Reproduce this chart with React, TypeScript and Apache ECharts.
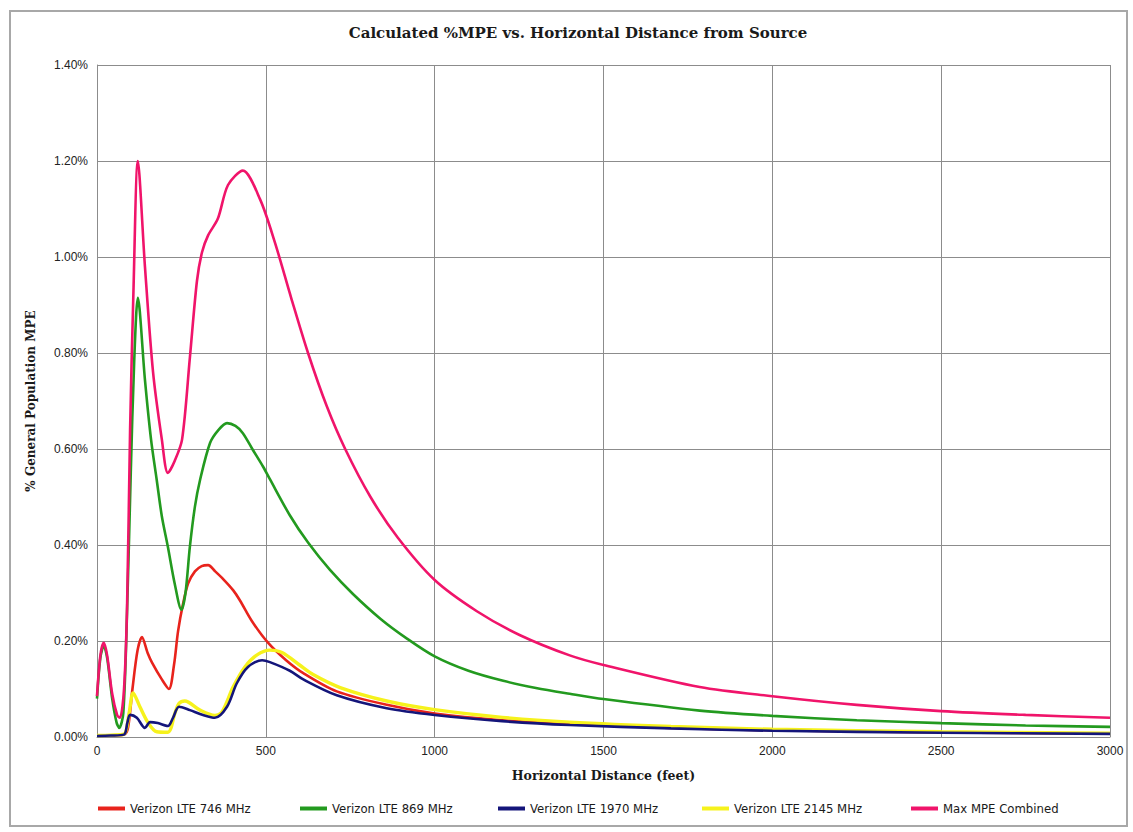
import React, { useEffect, useRef } from "react";
import * as echarts from "echarts";

const chartTitle = "Calculated %MPE vs. Horizontal Distance from Source";
const xAxisTitle = "Horizontal Distance (feet)";
const yAxisTitle = "% General Population MPE";
const xTickInterval = 500;
const xMax = 3000;
const yTickInterval = 0.2;
const yMax = 1.4;

const seriesNames = [
  "Verizon LTE 746 MHz",
  "Verizon LTE 869 MHz",
  "Verizon LTE 1970 MHz",
  "Verizon LTE 2145 MHz",
  "Max MPE Combined",
];

// [distance ft, % MPE]
const lte746: [number, number][] = [
  [0, 0.003], [40, 0.003], [80, 0.005], [92, 0.02], [105, 0.1], [120, 0.18], [133, 0.208],
  [150, 0.175], [163, 0.155], [192, 0.12], [213, 0.1], [228, 0.15], [240, 0.22], [255, 0.278],
  [270, 0.32], [290, 0.345], [310, 0.356], [329, 0.358], [350, 0.345], [375, 0.328],
  [403, 0.306], [423, 0.285], [460, 0.24], [507, 0.196], [560, 0.16], [611, 0.133],
  [710, 0.095], [858, 0.067], [1000, 0.049], [1200, 0.035], [1400, 0.027], [1700, 0.019],
  [2000, 0.014], [2500, 0.0095], [3000, 0.007],
];

const lte869: [number, number][] = [
  [0, 0.08], [10, 0.165], [20, 0.19], [30, 0.165], [45, 0.08], [58, 0.03], [66, 0.019],
  [78, 0.05], [89, 0.26], [100, 0.55], [110, 0.78], [121, 0.915], [142, 0.744], [160, 0.62],
  [177, 0.535], [192, 0.46], [210, 0.396], [230, 0.32], [250, 0.265], [262, 0.3], [275, 0.396],
  [290, 0.48], [305, 0.535], [335, 0.613], [360, 0.64], [385, 0.654], [410, 0.648],
  [432, 0.633], [460, 0.6], [492, 0.563], [512, 0.537], [571, 0.462], [625, 0.405],
  [690, 0.348], [758, 0.298], [840, 0.246], [918, 0.205], [1000, 0.168], [1100, 0.138],
  [1203, 0.117], [1300, 0.102], [1400, 0.09], [1500, 0.079], [1785, 0.055], [2000, 0.044],
  [2250, 0.035], [2500, 0.029], [2750, 0.024], [3000, 0.021],
];

const lte1970: [number, number][] = [
  [0, 0.002], [40, 0.003], [80, 0.005], [90, 0.03], [98, 0.046], [118, 0.04], [142, 0.019],
  [157, 0.031], [180, 0.029], [210, 0.023], [225, 0.04], [243, 0.063], [275, 0.056],
  [314, 0.046], [349, 0.04], [385, 0.063], [414, 0.112], [447, 0.146], [489, 0.16],
  [512, 0.156], [571, 0.138], [611, 0.12], [710, 0.087], [858, 0.06], [1000, 0.046],
  [1200, 0.033], [1400, 0.025], [1700, 0.018], [2000, 0.013], [2500, 0.009], [3000, 0.0065],
];

const lte2145: [number, number][] = [
  [0, 0.003], [40, 0.004], [80, 0.006], [95, 0.05], [107, 0.092], [127, 0.063], [151, 0.03],
  [177, 0.011], [210, 0.01], [231, 0.05], [243, 0.07], [260, 0.075], [305, 0.056],
  [349, 0.045], [370, 0.052], [403, 0.104], [438, 0.146], [474, 0.171], [512, 0.181],
  [548, 0.176], [600, 0.15], [640, 0.13], [720, 0.103], [858, 0.075], [1000, 0.057],
  [1200, 0.041], [1400, 0.031], [1700, 0.022], [2000, 0.016], [2500, 0.011], [3000, 0.008],
];

const maxCombined: [number, number][] = [
  [0, 0.085], [10, 0.17], [20, 0.196], [30, 0.17], [45, 0.09], [60, 0.045], [68, 0.04],
  [80, 0.1], [89, 0.27], [98, 0.64], [108, 0.93], [121, 1.2], [142, 0.98], [166, 0.76],
  [192, 0.62], [210, 0.55], [230, 0.575], [252, 0.62], [275, 0.79], [296, 0.95],
  [311, 1.01], [329, 1.045], [358, 1.08], [388, 1.15], [432, 1.18], [483, 1.12],
  [527, 1.03], [575, 0.915], [625, 0.8], [680, 0.69], [735, 0.6], [810, 0.5],
  [891, 0.415], [1000, 0.327], [1125, 0.262], [1253, 0.212], [1400, 0.17], [1500, 0.15],
  [1785, 0.104], [2000, 0.085], [2250, 0.067], [2500, 0.054], [2750, 0.046], [3000, 0.04],
];

const seriesData = [lte746, lte869, lte1970, lte2145, maxCombined];
const seriesColors = ["#e8231c", "#239a1f", "#14157a", "#f6f21c", "#f0146a"];
const legendLefts = [93, 295, 493, 697, 906];

export default function App() {
  const ref = useRef<HTMLDivElement>(null);

  useEffect(() => {
    if (!ref.current) return;
    const chart = echarts.init(ref.current, undefined, { renderer: "svg" });
    const gridColor = "#8c8c8c";
    const zOrder = [2, 2, 4, 3, 5];
    const widths = [2.6, 2.6, 2.6, 3.4, 2.6];

    const option: echarts.EChartsOption = {
      animation: false,
      backgroundColor: "#ffffff",
      title: {
        text: chartTitle,
        left: 573,
        top: 20,
        textAlign: "center",
        textStyle: {
          fontFamily: "DejaVu Serif",
          fontWeight: "bold",
          fontSize: 15,
          color: "#1a1a1a",
        },
      },
      legend: seriesNames.map((n, i) => ({
        data: [n],
        left: legendLefts[i],
        top: 797,
        icon: "rect",
        itemWidth: 27,
        itemHeight: 4,
        itemGap: 0,
        textStyle: {
          fontFamily: "Liberation Sans Narrow, DejaVu Sans Condensed, Roboto",
          fontSize: 13,
          color: "#1a1a1a",
        },
      })),
      grid: { left: 97, right: 23, top: 65, bottom: 95, containLabel: false },
      xAxis: {
        type: "value",
        min: 0,
        max: xMax,
        interval: xTickInterval,
        name: xAxisTitle,
        nameLocation: "middle",
        nameGap: 32,
        nameTextStyle: {
          fontFamily: "DejaVu Serif",
          fontWeight: "bold",
          fontSize: 12.5,
          color: "#1a1a1a",
        },
        axisLine: { show: true, lineStyle: { color: gridColor, width: 1 } },
        axisTick: { show: false },
        axisLabel: {
          margin: 8,
          fontFamily: "Liberation Sans",
          fontSize: 12,
          color: "#222",
          formatter: (v: number) => String(v),
        },
        splitLine: { show: true, lineStyle: { color: gridColor, width: 1 } },
      },
      yAxis: {
        type: "value",
        min: 0,
        max: yMax,
        interval: yTickInterval,
        name: yAxisTitle,
        nameLocation: "middle",
        nameRotate: 90,
        nameGap: 60,
        nameTextStyle: {
          fontFamily: "DejaVu Serif",
          fontWeight: "bold",
          fontSize: 12,
          color: "#1a1a1a",
        },
        axisLine: { show: true, lineStyle: { color: gridColor, width: 1 } },
        axisTick: { show: false },
        axisLabel: {
          margin: 9,
          fontFamily: "Liberation Sans",
          fontSize: 12,
          color: "#222",
          formatter: (v: number) => v.toFixed(2) + "%",
        },
        splitLine: { show: true, lineStyle: { color: gridColor, width: 1 } },
      },
      graphic: [
        {
          type: "rect",
          shape: { x: 10, y: 11, width: 1117, height: 815 },
          style: { fill: "none", stroke: "#a8a8a8", lineWidth: 2 },
          silent: true,
          z: -1,
        },
      ],
      series: seriesNames.map((n, i) => ({
        name: n,
        type: "line",
        data: seriesData[i],
        showSymbol: false,
        symbol: "none",
        smooth: 0.3,
        z: zOrder[i],
        lineStyle: { color: seriesColors[i], width: widths[i] },
        itemStyle: { color: seriesColors[i] },
      })),
    };

    chart.setOption(option);
    return () => chart.dispose();
  }, []);

  return (
    <div
      ref={ref}
      style={{ position: "absolute", left: 0, top: 0, width: 1133, height: 832 }}
    />
  );
}
